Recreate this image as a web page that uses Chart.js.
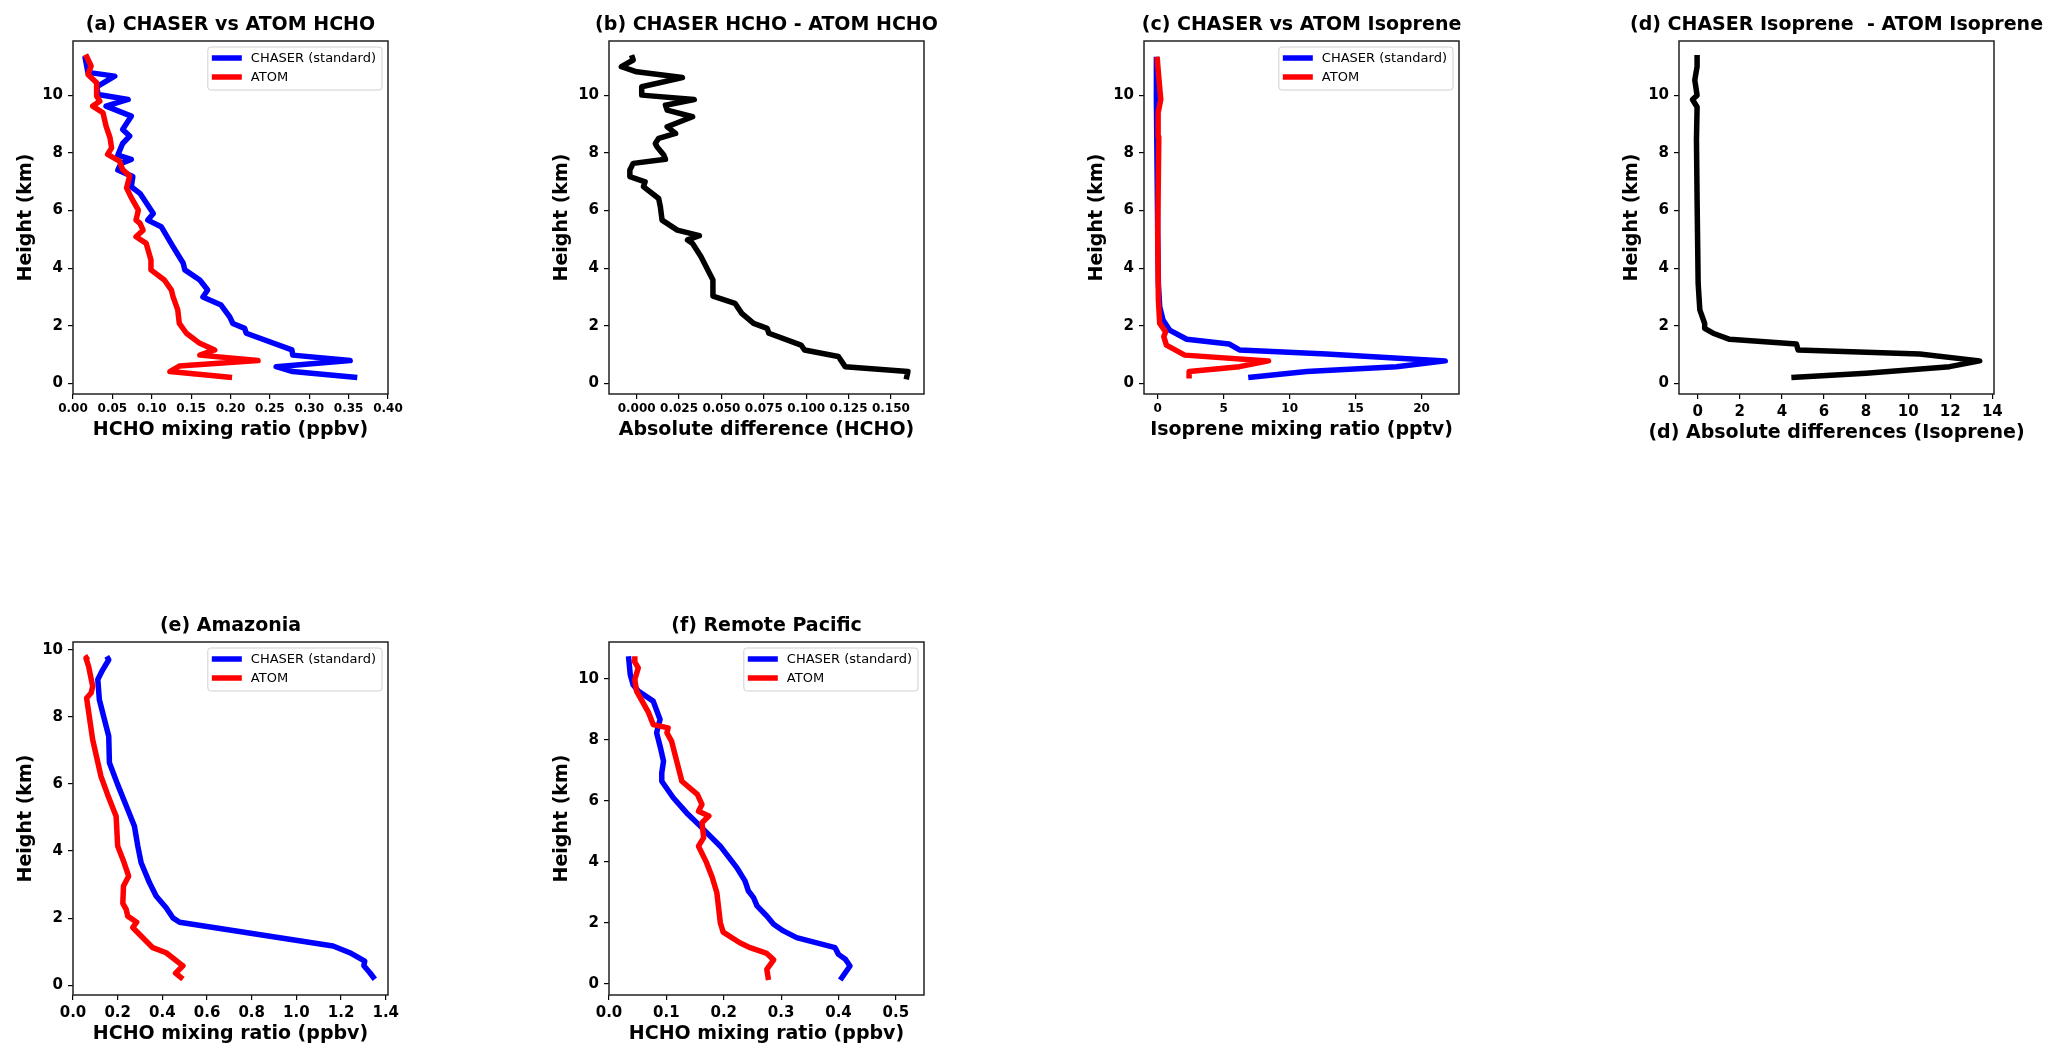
<!DOCTYPE html>
<html>
<head>
<meta charset="utf-8">
<title>CHASER vs ATOM profiles</title>
<script src="https://cdn.jsdelivr.net/npm/chart.js@4.4.1/dist/chart.umd.min.js"></script>
<style>
  html, body { margin: 0; padding: 0; background: #fff; }
  #fig { position: relative; width: 2067px; height: 1063px; overflow: hidden; background: #fff; }
  .panel { position: absolute; width: 461px; height: 442px; }
</style>
</head>
<body>
<div id="fig">
  <div class="panel" style="left:0px; top:12px;"><canvas id="chartA"></canvas></div>
  <div class="panel" style="left:536px; top:12px;"><canvas id="chartB"></canvas></div>
  <div class="panel" style="left:1071px; top:12px;"><canvas id="chartC"></canvas></div>
  <div class="panel" style="left:1606px; top:12px;"><canvas id="chartD"></canvas></div>
  <div class="panel" style="left:0px; top:613px;"><canvas id="chartE"></canvas></div>
  <div class="panel" style="left:536px; top:613px;"><canvas id="chartF"></canvas></div>
</div>
<script>
// tick labels
const heightTicks = [0, 2, 4, 6, 8, 10];
const hchoTicksA = [0, 0.05, 0.10, 0.15, 0.20, 0.25, 0.30, 0.35, 0.40];
const diffTicksB = [0, 0.025, 0.050, 0.075, 0.100, 0.125, 0.150];
const isopTicksC = [0, 5, 10, 15, 20];
const diffTicksD = [0, 2, 4, 6, 8, 10, 12, 14];
const hchoTicksE = [0, 0.2, 0.4, 0.6, 0.8, 1.0, 1.2, 1.4];
const hchoTicksF = [0, 0.1, 0.2, 0.3, 0.4, 0.5];

// (a) HCHO profiles, global (ppbv)
const aChaserHeight = [0.20, 0.41, 0.58, 0.79, 0.98, 1.16, 1.74, 1.91, 2.08, 2.31, 2.72, 3.00, 3.24, 3.59, 3.94, 4.17, 4.75, 5.44, 5.67, 5.90, 6.60, 6.83, 7.18, 7.41, 7.64, 7.78, 7.93, 8.33, 8.59, 8.82, 9.28, 9.63, 9.86, 10.03, 10.30, 10.67, 10.80, 11.37];
const aChaser = [0.361, 0.279, 0.258, 0.352, 0.279, 0.278, 0.220, 0.218, 0.203, 0.199, 0.188, 0.165, 0.171, 0.161, 0.142, 0.140, 0.127, 0.112, 0.095, 0.102, 0.085, 0.074, 0.076, 0.057, 0.061, 0.074, 0.057, 0.063, 0.072, 0.063, 0.074, 0.042, 0.070, 0.032, 0.030, 0.053, 0.019, 0.015];
const aAtomHeight = [0.20, 0.41, 0.60, 0.79, 0.98, 1.16, 1.39, 1.74, 2.08, 2.55, 3.01, 3.24, 3.59, 3.94, 4.28, 4.86, 5.09, 5.32, 5.56, 5.67, 6.02, 6.45, 6.79, 7.20, 7.43, 7.72, 7.95, 8.18, 8.53, 8.93, 9.40, 9.63, 9.80, 9.98, 10.44, 10.73, 11.02, 11.42];
const aAtom = [0.202, 0.123, 0.135, 0.235, 0.161, 0.180, 0.161, 0.144, 0.135, 0.133, 0.127, 0.125, 0.116, 0.099, 0.099, 0.093, 0.080, 0.089, 0.085, 0.080, 0.083, 0.074, 0.068, 0.072, 0.063, 0.059, 0.044, 0.049, 0.047, 0.042, 0.038, 0.025, 0.034, 0.030, 0.030, 0.019, 0.023, 0.016];

// (b) CHASER - ATOM HCHO
const bHeight = [0.14, 0.41, 0.58, 0.93, 1.16, 1.33, 1.74, 1.91, 2.08, 2.43, 2.78, 3.03, 3.59, 4.05, 4.40, 4.86, 4.98, 5.13, 5.32, 5.67, 6.13, 6.42, 6.83, 7.00, 7.18, 7.41, 7.64, 7.78, 7.93, 8.22, 8.33, 8.51, 8.68, 8.91, 9.26, 9.49, 9.66, 9.86, 10.01, 10.30, 10.62, 10.82, 11.00, 11.23, 11.40];
const bDiff = [0.159, 0.160, 0.123, 0.119, 0.099, 0.097, 0.078, 0.077, 0.069, 0.062, 0.058, 0.045, 0.045, 0.041, 0.038, 0.033, 0.030, 0.037, 0.024, 0.015, 0.014, 0.013, 0.004, 0.005, -0.004, -0.004, -0.002, 0.017, 0.016, 0.012, 0.011, 0.013, 0.023, 0.018, 0.033, 0.018, 0.017, 0.034, 0.003, 0.003, 0.027, 0.000, -0.009, -0.002, -0.003];

// (c) isoprene profiles (pptv)
const cChaserHeight = [0.20, 0.41, 0.58, 0.78, 1.02, 1.16, 1.37, 1.53, 1.85, 2.20, 2.66, 3.47, 5.20, 9.84, 11.34];
const cChaser = [6.86, 11.3, 18.1, 21.8, 12.8, 6.2, 5.4, 2.2, 0.9, 0.4, 0.15, 0.05, 0.0, -0.1, -0.1];
const cAtomHeight = [0.17, 0.41, 0.58, 0.78, 0.98, 1.33, 1.62, 1.79, 2.08, 2.90, 5.20, 8.56, 9.40, 9.86, 10.53, 11.34];
const cAtom = [2.38, 2.38, 6.2, 8.4, 2.05, 0.66, 0.46, 0.6, 0.15, 0.05, 0.0, 0.08, 0.03, 0.23, 0.1, -0.05];

// (d) CHASER - ATOM isoprene
const dHeight = [0.20, 0.35, 0.58, 0.78, 1.02, 1.16, 1.37, 1.53, 1.74, 1.91, 2.08, 2.55, 3.47, 6.37, 8.45, 9.60, 9.86, 10.00, 10.53, 11.00, 11.40];
const dDiff = [4.45, 8.0, 11.97, 13.4, 10.55, 4.77, 4.69, 1.52, 0.73, 0.33, 0.33, 0.1, 0.02, -0.03, -0.06, -0.03, -0.25, -0.03, -0.14, -0.03, -0.03];

// (e) Amazonia HCHO
const eChaserHeight = [0.18, 0.38, 0.58, 0.72, 0.97, 1.17, 1.88, 2.01, 2.31, 2.66, 3.06, 3.65, 4.15, 4.74, 5.24, 5.98, 6.63, 7.42, 8.51, 9.11, 9.40, 9.70, 9.80];
const eChaser = [1.351, 1.328, 1.302, 1.306, 1.239, 1.164, 0.477, 0.447, 0.417, 0.372, 0.342, 0.305, 0.290, 0.275, 0.245, 0.200, 0.163, 0.160, 0.118, 0.111, 0.133, 0.160, 0.151];
const eAtomHeight = [0.18, 0.36, 0.58, 0.97, 1.12, 1.32, 1.72, 1.88, 2.06, 2.26, 2.44, 2.96, 3.25, 3.65, 4.15, 5.04, 5.68, 6.23, 7.32, 8.56, 8.71, 8.91, 9.50, 9.75, 9.80];
const eAtom = [0.492, 0.459, 0.492, 0.417, 0.357, 0.327, 0.267, 0.285, 0.245, 0.238, 0.223, 0.226, 0.249, 0.229, 0.200, 0.193, 0.155, 0.125, 0.088, 0.061, 0.081, 0.088, 0.070, 0.058, 0.070];

// (f) Remote Pacific HCHO
const fChaserHeight = [0.12, 0.58, 0.80, 0.96, 1.18, 1.51, 1.73, 1.95, 2.22, 2.55, 2.82, 3.04, 3.37, 3.80, 4.51, 5.17, 5.61, 6.10, 6.64, 6.92, 7.30, 7.79, 8.23, 8.67, 9.27, 9.60, 9.81, 10.14, 10.74];
const fChaser = [0.403, 0.420, 0.412, 0.400, 0.394, 0.327, 0.304, 0.287, 0.275, 0.258, 0.252, 0.243, 0.237, 0.223, 0.194, 0.159, 0.135, 0.112, 0.092, 0.092, 0.095, 0.089, 0.083, 0.089, 0.077, 0.051, 0.042, 0.037, 0.034];
const fAtomHeight = [0.12, 0.47, 0.78, 0.99, 1.18, 1.34, 1.69, 2.00, 2.98, 3.48, 3.97, 4.51, 4.79, 5.28, 5.50, 5.66, 5.88, 6.21, 6.64, 7.30, 7.96, 8.23, 8.39, 8.50, 8.89, 9.60, 9.98, 10.36, 10.58, 10.74];
const fAtom = [0.278, 0.275, 0.287, 0.275, 0.246, 0.228, 0.199, 0.194, 0.188, 0.180, 0.170, 0.156, 0.165, 0.162, 0.174, 0.156, 0.162, 0.154, 0.127, 0.118, 0.109, 0.101, 0.103, 0.077, 0.069, 0.048, 0.045, 0.051, 0.044, 0.045];

const BLUE = '#0000ff';
const RED = '#ff0000';
const BLACK = '#000000';
const FONT = "'DejaVu Sans', 'Liberation Sans', sans-serif";

Chart.defaults.font.family = FONT;
Chart.defaults.color = '#000';

// frame on all four sides, title and x label centred on the axes, legend upper right
const axesDecor = {
  id: 'axesDecor',
  afterDraw(chart, args, opts) {
    const { ctx, chartArea: a } = chart;
    const cx = (a.left + a.right) / 2;
    ctx.save();
    ctx.strokeStyle = '#222';
    ctx.lineWidth = 1.5;
    ctx.strokeRect(a.left, a.top, a.right - a.left, a.bottom - a.top);

    ctx.fillStyle = '#000';
    ctx.font = 'bold 19px ' + FONT;
    ctx.textAlign = 'center';
    ctx.textBaseline = 'middle';
    ctx.fillText(opts.title, cx, a.top - 16);
    ctx.fillText(opts.xLabel, cx, a.bottom + opts.xLabelGap);

    if (opts.legend) {
      const sets = chart.data.datasets;
      ctx.font = '13px ' + FONT;
      const textW = Math.max(...sets.map(d => ctx.measureText(d.label).width));
      const boxW = 43 + textW + 6;
      const boxH = 43;
      const x0 = a.right - 6 - boxW;
      const y0 = a.top + 6;
      ctx.beginPath();
      if (ctx.roundRect) ctx.roundRect(x0, y0, boxW, boxH, 3); else ctx.rect(x0, y0, boxW, boxH);
      ctx.fillStyle = 'rgba(255,255,255,0.8)';
      ctx.fill();
      ctx.strokeStyle = '#d0d0d0';
      ctx.lineWidth = 1;
      ctx.stroke();
      sets.forEach((d, i) => {
        const yy = y0 + 11 + i * 19;
        ctx.strokeStyle = d.borderColor;
        ctx.lineWidth = 5.5;
        ctx.beginPath();
        ctx.moveTo(x0 + 4, yy);
        ctx.lineTo(x0 + 34, yy);
        ctx.stroke();
        ctx.fillStyle = '#000';
        ctx.textAlign = 'left';
        ctx.fillText(d.label, x0 + 43, yy + 1);
      });
    }
    ctx.restore();
  }
};

// later series drawn on top, as in the source figure
function profile(label, heights, values, color, order) {
  return {
    label,
    data: heights.map((h, i) => ({ x: values[i], y: h })),
    showLine: true,
    borderColor: color,
    backgroundColor: color,
    borderWidth: 5.5,
    pointRadius: 0,
    pointHoverRadius: 0,
    borderJoinStyle: 'round',
    borderCapStyle: 'butt',
    tension: 0,
    order
  };
}

function makePanel(id, p) {
  const tickGrid = { drawOnChartArea: false, drawTicks: true, tickLength: 5, color: '#000', lineWidth: 1.2 };
  const small = p.xTickSize < 14;
  new Chart(document.getElementById(id), {
    type: 'scatter',
    data: { datasets: p.datasets },
    options: {
      responsive: true,
      maintainAspectRatio: false,
      animation: false,
      layout: { padding: { top: 29, right: 73, bottom: 0, left: 0 } },
      plugins: {
        legend: { display: false },
        tooltip: { enabled: false },
        axesDecor: {
          title: p.title,
          legend: p.legend,
          xLabel: p.xLabel,
          xLabelGap: small ? 36 : 39.5
        }
      },
      scales: {
        x: {
          type: 'linear',
          min: p.xMin,
          max: p.xMax,
          afterBuildTicks: sc => { sc.ticks = p.xTicks.map(v => ({ value: v })); },
          afterFit: sc => { sc.height = 60; sc.paddingLeft = 0; sc.paddingRight = 0; },
          grid: tickGrid,
          border: { display: false },
          ticks: {
            color: '#000',
            autoSkip: false,
            maxRotation: 0,
            minRotation: 0,
            padding: small ? 3 : 4,
            font: { size: p.xTickSize, weight: 'bold' },
            callback: v => Number(v).toFixed(p.xDec)
          },
          title: { display: false }
        },
        y: {
          type: 'linear',
          min: p.yMin,
          max: p.yMax,
          afterBuildTicks: sc => { sc.ticks = heightTicks.map(v => ({ value: v })); },
          afterFit: sc => { sc.width = 73; sc.paddingTop = 0; sc.paddingBottom = 0; },
          grid: tickGrid,
          border: { display: false },
          ticks: {
            color: '#000',
            autoSkip: false,
            padding: 5,
            font: { size: 15, weight: 'bold' },
            callback: v => String(v)
          },
          title: {
            display: true,
            text: 'Height (km)',
            color: '#000',
            font: { size: 19, weight: 'bold' },
            padding: { top: 14.6, bottom: 0 }
          }
        }
      }
    },
    plugins: [axesDecor]
  });
}

makePanel('chartA', {
  title: '(a) CHASER vs ATOM HCHO',
  datasets: [profile('CHASER (standard)', aChaserHeight, aChaser, BLUE, 1), profile('ATOM', aAtomHeight, aAtom, RED, 0)],
  legend: true,
  xMin: 0, xMax: 0.40, xTicks: hchoTicksA, xDec: 2, xTickSize: 12,
  xLabel: 'HCHO mixing ratio (ppbv)',
  yMin: -0.37, yMax: 11.89
});

makePanel('chartB', {
  title: '(b) CHASER HCHO - ATOM HCHO',
  datasets: [profile('CHASER - ATOM', bHeight, bDiff, BLACK, 0)],
  legend: false,
  xMin: -0.0163, xMax: 0.1695, xTicks: diffTicksB, xDec: 3, xTickSize: 12,
  xLabel: 'Absolute difference (HCHO)',
  yMin: -0.37, yMax: 11.89
});

makePanel('chartC', {
  title: '(c) CHASER vs ATOM Isoprene',
  datasets: [profile('CHASER (standard)', cChaserHeight, cChaser, BLUE, 1), profile('ATOM', cAtomHeight, cAtom, RED, 0)],
  legend: true,
  xMin: -1.04, xMax: 22.84, xTicks: isopTicksC, xDec: 0, xTickSize: 12,
  xLabel: 'Isoprene mixing ratio (pptv)',
  yMin: -0.37, yMax: 11.89
});

makePanel('chartD', {
  title: '(d) CHASER Isoprene  - ATOM Isoprene',
  datasets: [profile('CHASER - ATOM', dHeight, dDiff, BLACK, 0)],
  legend: false,
  xMin: -0.89, xMax: 14.08, xTicks: diffTicksD, xDec: 0, xTickSize: 15,
  xLabel: '(d) Absolute differences (Isoprene)',
  yMin: -0.37, yMax: 11.89
});

makePanel('chartE', {
  title: '(e) Amazonia',
  datasets: [profile('CHASER (standard)', eChaserHeight, eChaser, BLUE, 1), profile('ATOM', eAtomHeight, eAtom, RED, 0)],
  legend: true,
  xMin: 0, xMax: 1.41, xTicks: hchoTicksE, xDec: 1, xTickSize: 15,
  xLabel: 'HCHO mixing ratio (ppbv)',
  yMin: -0.29, yMax: 10.23
});

makePanel('chartF', {
  title: '(f) Remote Pacific',
  datasets: [profile('CHASER (standard)', fChaserHeight, fChaser, BLUE, 1), profile('ATOM', fAtomHeight, fAtom, RED, 0)],
  legend: true,
  xMin: 0, xMax: 0.549, xTicks: hchoTicksF, xDec: 1, xTickSize: 15,
  xLabel: 'HCHO mixing ratio (ppbv)',
  yMin: -0.373, yMax: 11.21
});
</script>
</body>
</html>
